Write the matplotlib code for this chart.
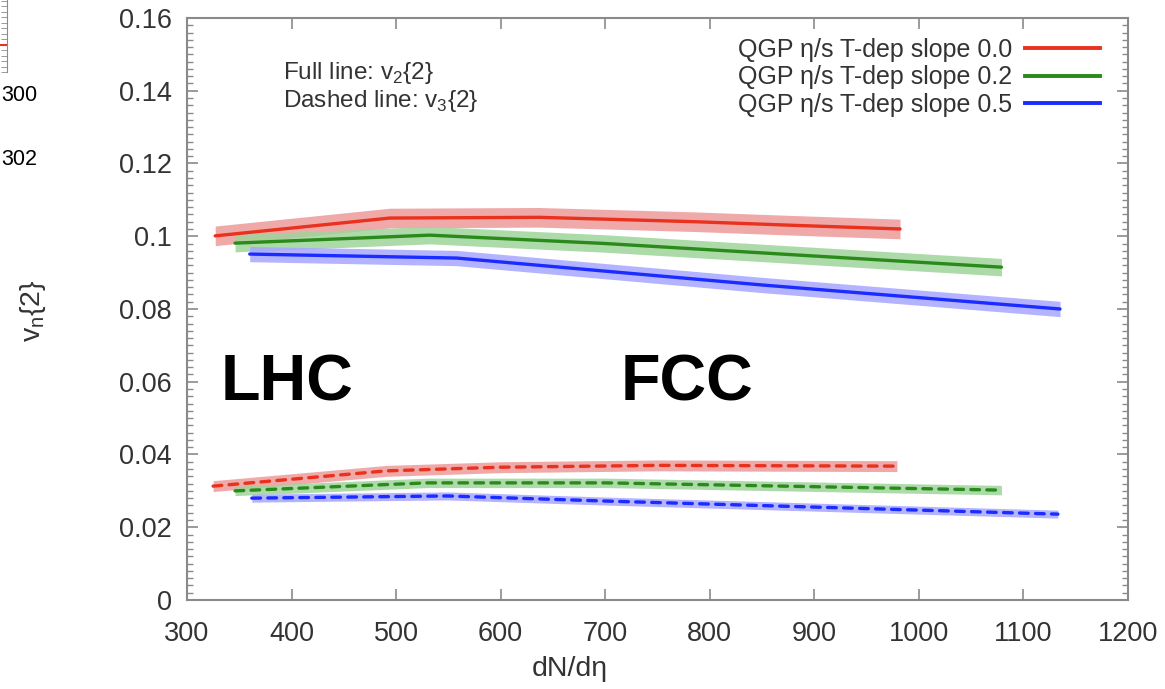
import matplotlib
matplotlib.use("Agg")
import matplotlib.pyplot as plt
from matplotlib.ticker import MultipleLocator
from matplotlib.lines import Line2D

plt.rcParams['font.family'] = ['Liberation Sans', 'DejaVu Sans']

# v2{2} (full lines) vs dN/deta
red_v2_x = [327, 494, 637, 785, 880, 982]
red_v2_y = [0.1001, 0.1050, 0.1052, 0.1040, 0.1030, 0.1020]
green_v2_x = [346, 532, 700, 886, 1079]
green_v2_y = [0.0981, 0.1003, 0.0980, 0.0948, 0.0915]
blue_v2_x = [360, 558, 850, 1135]
blue_v2_y = [0.0951, 0.0940, 0.0866, 0.0800]

# v3{2} (dashed lines)
red_v3_x = [325, 491, 600, 750, 979]
red_v3_y = [0.0313, 0.0355, 0.0365, 0.0370, 0.0368]
green_v3_x = [346, 530, 700, 1079]
green_v3_y = [0.0300, 0.0322, 0.0322, 0.0302]
blue_v3_x = [362, 549, 700, 1133]
blue_v3_y = [0.0280, 0.0286, 0.0272, 0.0236]

# half widths of the uncertainty bands
v2_err = [0.0027, 0.0024, 0.0021]
v3_err = [0.0015, 0.0013, 0.0011]

labels = ["QGP η/s T-dep slope 0.0", "QGP η/s T-dep slope 0.2", "QGP η/s T-dep slope 0.5"]
line_cols = ["#e8321e", "#2b8a1c", "#1a2cff"]
band_cols = ["#ee9a9a", "#9fd49a", "#a6a6ff"]

fig = plt.figure(figsize=(11.65, 6.89), dpi=100)
ax = fig.add_axes([0.1605, 0.1292, 0.8077, 0.8447])

v2 = [(red_v2_x, red_v2_y), (green_v2_x, green_v2_y), (blue_v2_x, blue_v2_y)]
v3 = [(red_v3_x, red_v3_y), (green_v3_x, green_v3_y), (blue_v3_x, blue_v3_y)]

for i in range(3):
	x, y = v2[i]
	lo = [v - v2_err[i] for v in y]
	hi = [v + v2_err[i] for v in y]
	ax.fill_between(x, lo, hi, color=band_cols[i], alpha=0.85, lw=0)
	ax.plot(x, y, color=line_cols[i], lw=2.4, solid_capstyle='round')

	x, y = v3[i]
	lo = [v - v3_err[i] for v in y]
	hi = [v + v3_err[i] for v in y]
	ax.fill_between(x, lo, hi, color=band_cols[i], alpha=0.85, lw=0)
	ax.plot(x, y, color=line_cols[i], lw=2.4, dashes=(2.6, 2.2), dash_capstyle='round')

ax.set_xlim(300, 1200)
ax.set_ylim(0, 0.16)
ax.xaxis.set_major_locator(MultipleLocator(100))
ax.yaxis.set_minor_locator(MultipleLocator(0.002))
ax.set_yticks([0, 0.02, 0.04, 0.06, 0.08, 0.1, 0.12, 0.14, 0.16])
ax.set_yticklabels(["0", "0.02", "0.04", "0.06", "0.08", "0.1", "0.12", "0.14", "0.16"])

for s in ax.spines.values():
	s.set_color("#8a8a8a")
	s.set_linewidth(1.5)
ax.tick_params(which='both', direction='in', top=True, right=True, color="#8a8a8a",
	labelcolor="#333333", labelsize=19.5)
ax.tick_params(which='major', length=8, width=1.2)
ax.tick_params(axis='x', which='major', pad=15)
ax.tick_params(axis='y', which='major', pad=11)
ax.tick_params(which='minor', length=4, width=1.0)
ax.tick_params(axis='x', which='minor', bottom=False, top=False)

ax.set_xlabel("dN/dη", fontsize=20.5, color="#333333")
ax.xaxis.set_label_coords(0.407, -0.097)
ax.set_ylabel("v$_\\mathregular{n}${2}", fontsize=20.5, color="#333333")
ax.yaxis.set_label_coords(-0.148, 0.498)

handles = [Line2D([], [], color=c, lw=2.8) for c in line_cols]
ax.legend(handles, labels, loc='upper right', bbox_to_anchor=(0.986, 0.992),
	frameon=False, markerfirst=False, fontsize=18, handlelength=3.0,
	handletextpad=0.5, labelspacing=0.15, borderaxespad=0.2, labelcolor="#333333")

ax.text(0.102, 0.905, "Full line: v$_\\mathregular{2}${2}", transform=ax.transAxes,
	fontsize=17.5, color="#333333", va='center')
ax.text(0.102, 0.857, "Dashed line: v$_\\mathregular{3}${2}", transform=ax.transAxes,
	fontsize=17.5, color="#333333", va='center')

ax.text(332, 0.0595, "LHC", fontsize=46.5, fontweight='bold', color='black', va='center')
ax.text(715, 0.0595, "FCC", fontsize=46.5, fontweight='bold', color='black', va='center')

# bits of the neighbouring panel on the left
edge = fig.add_axes([-0.05, 0.895, 0.056, 0.2])
edge.set_xlim(0, 1)
edge.set_ylim(0, 1)
edge.plot([0, 1], [0.2, 0.2], color="#e8321e", lw=1.5)
for s in ["top", "left", "bottom"]:
	edge.spines[s].set_visible(False)
edge.spines["right"].set_color("#8a8a8a")
edge.set_xticks([])
edge.yaxis.tick_right()
edge.yaxis.set_minor_locator(MultipleLocator(0.04))
edge.set_yticks([])
edge.tick_params(which='minor', direction='in', length=4, color="#8a8a8a", labelright=False)
fig.text(0.001, 0.862, "300", fontsize=15.5, color="black", va='center')
fig.text(0.001, 0.768, "302", fontsize=15.5, color="black", va='center')

fig.savefig("out.png", dpi=100)
